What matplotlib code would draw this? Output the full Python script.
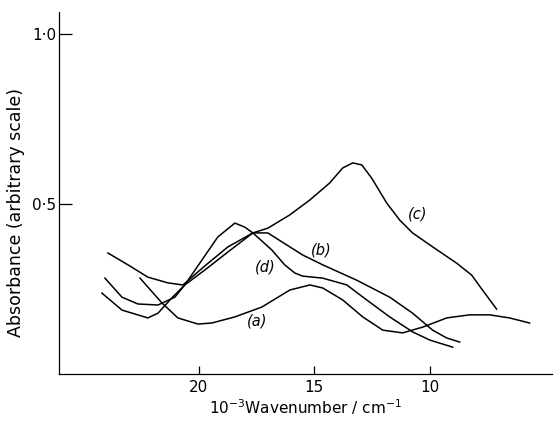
import matplotlib
matplotlib.use("Agg")
from matplotlib import pyplot as plt
from matplotlib.ticker import FixedLocator, FixedFormatter

# points (x = 10^-3 wavenumber / cm^-1)
a_x = [22.55, 21.60, 20.91, 20.04, 19.44, 18.44, 17.27, 16.06, 15.19, 14.63, 13.77, 12.90, 12.03, 11.17, 10.30, 9.26, 8.27, 7.40, 6.54, 5.67]
a_y = [0.282, 0.209, 0.165, 0.147, 0.150, 0.168, 0.197, 0.247, 0.262, 0.253, 0.218, 0.168, 0.129, 0.121, 0.138, 0.165, 0.174, 0.174, 0.165, 0.150]

b_x = [24.07, 23.33, 22.64, 21.77, 21.04, 20.61, 19.74, 18.74, 17.66, 17.01, 16.06, 15.50, 14.63, 13.16, 11.73, 10.74, 9.87, 9.26, 8.70]
b_y = [0.282, 0.226, 0.206, 0.203, 0.226, 0.262, 0.306, 0.359, 0.415, 0.415, 0.374, 0.350, 0.321, 0.276, 0.226, 0.179, 0.129, 0.106, 0.094]

c_x = [23.94, 23.07, 22.21, 21.34, 20.69, 19.74, 18.74, 17.66, 17.01, 16.06, 15.19, 14.33, 13.77, 13.33, 12.94, 12.51, 11.86, 11.30, 10.74, 9.87, 8.83, 8.18, 7.71, 7.10]
c_y = [0.356, 0.321, 0.285, 0.268, 0.262, 0.318, 0.374, 0.415, 0.429, 0.468, 0.512, 0.562, 0.606, 0.621, 0.615, 0.576, 0.503, 0.453, 0.415, 0.374, 0.326, 0.291, 0.247, 0.191]

d_x = [24.20, 23.33, 22.21, 21.77, 21.17, 20.61, 19.87, 19.18, 18.44, 18.01, 17.66, 16.84, 16.28, 15.84, 15.50, 14.63, 13.59, 12.73, 11.73, 10.74, 10.00, 9.00]
d_y = [0.238, 0.188, 0.165, 0.179, 0.224, 0.262, 0.335, 0.403, 0.444, 0.432, 0.415, 0.365, 0.321, 0.297, 0.288, 0.282, 0.262, 0.218, 0.168, 0.124, 0.100, 0.079]

labels = ["(a)", "(b)", "(c)", "(d)"]
label_x = [17.49, 14.68, 10.52, 17.14]
label_y = [0.156, 0.365, 0.471, 0.315]

xticks = [20, 15, 10]
yticks = [0.5, 1.0]
ytick_labels = ["0·5", "1·0"]

fig = plt.figure(figsize=(5.54, 4.22), dpi=100)
ax = fig.add_axes([0.1065, 0.1137, 0.889, 0.858])

for xs, ys in [(a_x, a_y), (b_x, b_y), (c_x, c_y), (d_x, d_y)]:
    ax.plot(xs, ys, color="black", lw=1.1, solid_joinstyle="round")

for t, x, y in zip(labels, label_x, label_y):
    ax.text(x, y, t, fontsize=10.5, style="italic", ha="center", va="center")

ax.set_xlim(26.06, 4.72)
ax.set_ylim(0, 1.065)

ax.spines["top"].set_visible(False)
ax.spines["right"].set_visible(False)
for s in ["left", "bottom"]:
    ax.spines[s].set_linewidth(0.9)

ax.xaxis.set_major_locator(FixedLocator(xticks))
ax.yaxis.set_major_locator(FixedLocator(yticks))
ax.yaxis.set_major_formatter(FixedFormatter(ytick_labels))
ax.tick_params(axis="x", direction="in", length=6, width=0.9, labelsize=11, pad=4)
ax.tick_params(axis="y", direction="in", length=9.5, width=0.9, labelsize=11, pad=2)

ax.set_xlabel("10$^{-3}$Wavenumber / cm$^{-1}$", fontsize=11, labelpad=2)
ax.set_ylabel("Absorbance (arbitrary scale)", fontsize=12.5)
ax.yaxis.set_label_coords(-0.07, 0.447)

fig.savefig("out.png", dpi=100)
